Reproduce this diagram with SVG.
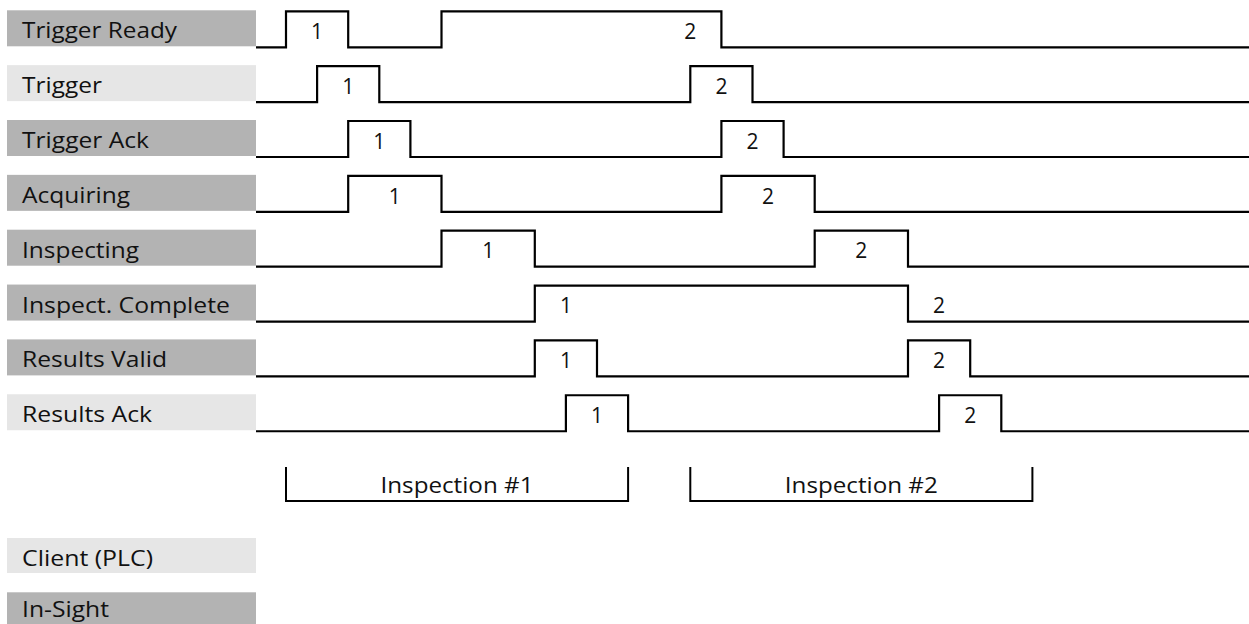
<svg xmlns="http://www.w3.org/2000/svg" width="1249" height="624" viewBox="0 0 1249 624">
  <style>
    .box-dev { fill: #b3b3b3; }
    .box-plc { fill: #e6e6e6; }
    .lbl { font-family: "Open Sans", "Liberation Sans", sans-serif; font-size: 21px; fill: #111; }
    .num { font-family: "Open Sans", "Liberation Sans", sans-serif; font-size: 21px; fill: #111; text-anchor: middle; }
    .wave { fill: none; stroke: #000; stroke-width: 2.2; stroke-linejoin: miter; }
    .brk { fill: none; stroke: #000; stroke-width: 2; }
  </style>
  <rect width="1249" height="624" fill="#fff"/>

  <!-- signal rows: label box, waveform, cycle numbers -->
  <g id="trigger-ready">
    <rect class="box-dev" x="7" y="10.3" width="249" height="36"/>
    <text class="lbl" x="22" y="38.3" textLength="155" lengthAdjust="spacingAndGlyphs">Trigger Ready</text>
    <path class="wave" d="M256,47.3 H286 V11.3 H348.2 V47.3 H441.5 V11.3 H721.4 V47.3 H1249"/>
    <text class="num" x="317.1" y="39">1</text>
    <text class="num" x="690.3" y="39">2</text>
  </g>
  <g id="trigger">
    <rect class="box-plc" x="7" y="65.15" width="249" height="36"/>
    <text class="lbl" x="22" y="93.15" textLength="80" lengthAdjust="spacingAndGlyphs">Trigger</text>
    <path class="wave" d="M256,102.15 H317.1 V66.15 H379.3 V102.15 H690.3 V66.15 H752.5 V102.15 H1249"/>
    <text class="num" x="348.2" y="93.85">1</text>
    <text class="num" x="721.4" y="93.85">2</text>
  </g>
  <g id="trigger-ack">
    <rect class="box-dev" x="7" y="120" width="249" height="36"/>
    <text class="lbl" x="22" y="148" textLength="127" lengthAdjust="spacingAndGlyphs">Trigger Ack</text>
    <path class="wave" d="M256,157 H348.2 V121 H410.4 V157 H721.4 V121 H783.6 V157 H1249"/>
    <text class="num" x="379.3" y="148.7">1</text>
    <text class="num" x="752.5" y="148.7">2</text>
  </g>
  <g id="acquiring">
    <rect class="box-dev" x="7" y="174.85" width="249" height="36"/>
    <text class="lbl" x="22" y="202.85" textLength="108" lengthAdjust="spacingAndGlyphs">Acquiring</text>
    <path class="wave" d="M256,211.85 H348.2 V175.85 H441.5 V211.85 H721.4 V175.85 H814.7 V211.85 H1249"/>
    <text class="num" x="394.85" y="203.55">1</text>
    <text class="num" x="768.05" y="203.55">2</text>
  </g>
  <g id="inspecting">
    <rect class="box-dev" x="7" y="229.7" width="249" height="36"/>
    <text class="lbl" x="22" y="257.7" textLength="117" lengthAdjust="spacingAndGlyphs">Inspecting</text>
    <path class="wave" d="M256,266.7 H441.5 V230.7 H534.8 V266.7 H814.7 V230.7 H908 V266.7 H1249"/>
    <text class="num" x="488.15" y="258.4">1</text>
    <text class="num" x="861.35" y="258.4">2</text>
  </g>
  <g id="inspect-complete">
    <rect class="box-dev" x="7" y="284.55" width="249" height="36"/>
    <text class="lbl" x="22" y="312.55" textLength="208" lengthAdjust="spacingAndGlyphs">Inspect. Complete</text>
    <path class="wave" d="M256,321.55 H534.8 V285.55 H908 V321.55 H1249"/>
    <text class="num" x="565.9" y="313.25">1</text>
    <text class="num" x="939.1" y="313.25">2</text>
  </g>
  <g id="results-valid">
    <rect class="box-dev" x="7" y="339.4" width="249" height="36"/>
    <text class="lbl" x="22" y="367.4" textLength="145" lengthAdjust="spacingAndGlyphs">Results Valid</text>
    <path class="wave" d="M256,376.4 H534.8 V340.4 H597 V376.4 H908 V340.4 H970.2 V376.4 H1249"/>
    <text class="num" x="565.9" y="368.1">1</text>
    <text class="num" x="939.1" y="368.1">2</text>
  </g>
  <g id="results-ack">
    <rect class="box-plc" x="7" y="394.25" width="249" height="36"/>
    <text class="lbl" x="22" y="422.25" textLength="130" lengthAdjust="spacingAndGlyphs">Results Ack</text>
    <path class="wave" d="M256,431.25 H565.9 V395.25 H628.1 V431.25 H939.1 V395.25 H1001.3 V431.25 H1249"/>
    <text class="num" x="597" y="422.95">1</text>
    <text class="num" x="970.2" y="422.95">2</text>
  </g>

  <!-- inspection spans -->
  <g id="inspection-1">
    <path class="brk" d="M286,467 V501 H628.1 V467"/>
    <text class="num" x="457" y="493.3" textLength="153" lengthAdjust="spacingAndGlyphs">Inspection #1</text>
  </g>
  <g id="inspection-2">
    <path class="brk" d="M690.3,467 V501 H1032.4 V467"/>
    <text class="num" x="861.3" y="493.3" textLength="153" lengthAdjust="spacingAndGlyphs">Inspection #2</text>
  </g>

  <!-- legend -->
  <g id="legend-client">
    <rect class="box-plc" x="7" y="538" width="249" height="35"/>
    <text class="lbl" x="22" y="566" textLength="131" lengthAdjust="spacingAndGlyphs">Client (PLC)</text>
  </g>
  <g id="legend-insight">
    <rect class="box-dev" x="7" y="592.3" width="249" height="36"/>
    <text class="lbl" x="22" y="617" textLength="87" lengthAdjust="spacingAndGlyphs">In-Sight</text>
  </g>

  <g id="connectors"/>
</svg>
